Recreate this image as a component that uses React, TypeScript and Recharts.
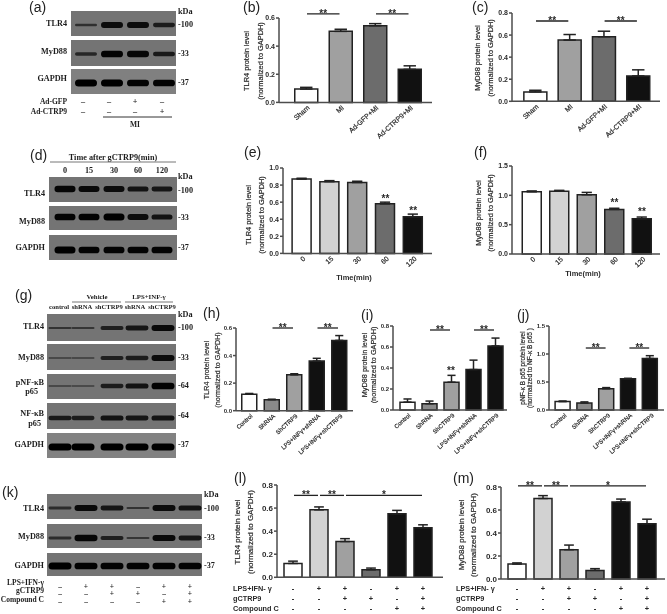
import { BarChart, Bar, XAxis, YAxis, ErrorBar, ReferenceLine, Cell } from "recharts";

const SANS = "'Liberation Sans', Arial, sans-serif";
const SERIF = "'Liberation Serif', 'Times New Roman', serif";
const INK = "#2a2a2a";
const AXIS = "#4d4d4d";

const WHITE = "#ffffff";
const PALE = "#d2d2d2";
const LIGHT = "#a0a0a0";
const STEEL = "#8a8a8a";
const MID = "#6c6c6c";
const BLACK = "#111111";

// bar panels
const miCategories = ["Sham", "MI", "Ad-GFP+MI", "Ad-CTRP9+MI"];
const miFills = [WHITE, LIGHT, MID, BLACK];
const bValues = [0.095, 0.505, 0.545, 0.235];
const bErrors = [0.012, 0.015, 0.015, 0.025];
const bTicks = [0, 0.2, 0.4, 0.6];
const cValues = [0.085, 0.555, 0.585, 0.23];
const cErrors = [0.015, 0.05, 0.05, 0.055];
const cTicks = [0, 0.2, 0.4, 0.6, 0.8];

const timeCategories = ["0", "15", "30", "60", "120"];
const timeFills = [WHITE, PALE, LIGHT, MID, BLACK];
const eValues = [0.87, 0.84, 0.83, 0.58, 0.43];
const eErrors = [0.01, 0.012, 0.015, 0.02, 0.03];
const eTicks = [0, 0.2, 0.4, 0.6, 0.8, 1.0];
const fValues = [1.06, 1.07, 1.01, 0.76, 0.6];
const fErrors = [0.015, 0.015, 0.04, 0.02, 0.03];
const fTicks = [0, 0.5, 1.0, 1.5];

const shCategories = ["Control", "ShRNA", "ShCTRP9", "LPS+INFγ+shRNA", "LPS+INFγ+shCTRP9"];
const shFills = [WHITE, STEEL, LIGHT, BLACK, BLACK];
const hValues = [0.12, 0.08, 0.26, 0.36, 0.51];
const hErrors = [0.005, 0.003, 0.008, 0.02, 0.035];
const hTicks = [0, 0.2, 0.4, 0.6];
const iValues = [0.075, 0.06, 0.265, 0.385, 0.61];
const iErrors = [0.03, 0.025, 0.065, 0.09, 0.075];
const iTicks = [0, 0.2, 0.4, 0.6, 0.8];
const jValues = [0.15, 0.125, 0.38, 0.56, 0.92];
const jErrors = [0.01, 0.02, 0.02, 0.005, 0.05];
const jTicks = [0, 0.5, 1.0, 1.5];

const compCategories = ["Vehicle", "LPS", "LPS+g", "g", "LPS+C", "LPS+g+C"];
const compFills = [WHITE, PALE, LIGHT, MID, BLACK, BLACK];
const lValues = [0.12, 0.585, 0.31, 0.065, 0.55, 0.43];
const lErrors = [0.02, 0.025, 0.025, 0.015, 0.03, 0.025];
const mValues = [0.13, 0.7, 0.255, 0.075, 0.67, 0.48];
const mErrors = [0.01, 0.025, 0.04, 0.015, 0.025, 0.04];
const compTicks = [0, 0.2, 0.4, 0.6, 0.8];

const lpsSigns = ["-", "+", "+", "-", "+", "+"];
const gctrpSigns = ["-", "-", "+", "+", "-", "+"];
const compoundSigns = ["-", "-", "-", "-", "+", "+"];
const signRows = [lpsSigns, gctrpSigns, compoundSigns];

// significance marks: from, to, height in data units, text
type Mark = { from: string; to: string; y: number; text: string };
const bMarks: Mark[] = [
  { from: "Sham", to: "MI", y: 0.63, text: "**" },
  { from: "Ad-GFP+MI", to: "Ad-CTRP9+MI", y: 0.63, text: "**" },
];
const cMarks: Mark[] = [
  { from: "Sham", to: "MI", y: 0.7275, text: "**" },
  { from: "Ad-GFP+MI", to: "Ad-CTRP9+MI", y: 0.7275, text: "**" },
];
const eMarks: Mark[] = [
  { from: "60", to: "60", y: 0.64, text: "**" },
  { from: "120", to: "120", y: 0.5, text: "**" },
];
const fMarks: Mark[] = [
  { from: "60", to: "60", y: 0.87, text: "**" },
  { from: "120", to: "120", y: 0.71, text: "**" },
];
const hMarks: Mark[] = [
  { from: "ShRNA", to: "ShCTRP9", y: 0.6, text: "**" },
  { from: "LPS+INFγ+shRNA", to: "LPS+INFγ+shCTRP9", y: 0.6, text: "**" },
];
const iMarks: Mark[] = [
  { from: "ShRNA", to: "ShCTRP9", y: 0.762, text: "**" },
  { from: "LPS+INFγ+shRNA", to: "LPS+INFγ+shCTRP9", y: 0.762, text: "**" },
  { from: "ShCTRP9", to: "ShCTRP9", y: 0.37, text: "**" },
];
const jMarks: Mark[] = [
  { from: "ShRNA", to: "ShCTRP9", y: 1.107, text: "**" },
  { from: "LPS+INFγ+shRNA", to: "LPS+INFγ+shCTRP9", y: 1.107, text: "**" },
];
const lMarks: Mark[] = [
  { from: "Vehicle", to: "LPS", y: 0.71, text: "**" },
  { from: "LPS", to: "LPS+g", y: 0.71, text: "**" },
  { from: "LPS+g", to: "LPS+g+C", y: 0.71, text: "*" },
];
const mMarks: Mark[] = [
  { from: "Vehicle", to: "LPS", y: 0.81, text: "**" },
  { from: "LPS", to: "LPS+g", y: 0.81, text: "**" },
  { from: "LPS+g", to: "LPS+g+C", y: 0.81, text: "*" },
];

// blot band strength per lane, 0 to 1
const aTlr4 = [0.25, 0.8, 0.8, 0.55];
const aMyd88 = [0.4, 0.95, 0.9, 0.6];
const aGapdh = [1, 1, 0.95, 0.95];
const dTlr4 = [0.9, 0.85, 0.8, 0.7, 0.65];
const dMyd88 = [0.95, 0.95, 1, 0.8, 0.7];
const dGapdh = [1, 0.95, 0.95, 0.95, 0.95];
const gTlr4 = [0.2, 0.15, 0.5, 0.65, 0.85];
const gMyd88 = [0.1, 0.08, 0.5, 0.55, 0.8];
const gPnf = [0.08, 0.05, 0.55, 0.7, 0.95];
const gNf = [0.6, 0.55, 0.7, 0.65, 0.7];
const gGapdh = [1, 1, 1, 1, 1];
const kTlr4 = [0.3, 0.85, 0.65, 0.2, 0.8, 0.7];
const kMyd88 = [0.3, 0.9, 0.5, 0.15, 0.85, 0.65];
const kGapdh = [1, 0.95, 0.95, 0.95, 0.95, 0.95];

const aLanes = [86, 112, 138, 164];
const dLanes = [65, 89, 114, 138, 162];
const gLanes = [60, 83, 112, 137, 163];
const kLanes = [60, 86, 112, 138, 164, 190];

function MarkShape(props: any) {
  const { x1, x2, y1, text, fontSize } = props;
  const mid = (x1 + x2) / 2;
  return (
    <g>
      {x2 > x1 ? <line x1={x1 + 1} x2={x2 - 1} y1={y1} y2={y1} stroke="#222" strokeWidth={1.3} /> : null}
      <text x={mid} y={y1 + 3} textAnchor="middle" fontFamily={SANS} fontWeight={700} fontSize={fontSize} fill={INK}>
        {text}
      </text>
    </g>
  );
}

function Panel(props: {
  categories: string[];
  fills: string[];
  values: number[];
  errors: number[];
  ticks: number[];
  marks: Mark[];
  axisX: number;
  topY: number;
  zeroY: number;
  rightX: number;
  firstX: number;
  step: number;
  barW: number;
  font: number;
  signY?: number;
}) {
  const { categories, fills, values, errors, ticks, marks, axisX, topY, zeroY, rightX, firstX, step, barW, font, signY } = props;
  const data = categories.map((name, i) => ({ name, value: values[i], err: [0, errors[i]] }));
  const yW = 26;
  const topPad = 16;
  const xH = 72;
  const padL = firstX - step / 2 - axisX;
  const padR = rightX - (firstX + step * (categories.length - 0.5));
  const renderTick = (p: any) => {
    if (signY !== undefined) {
      return (
        <g>
          {signRows.map((row, r) => (
            <text key={r} x={p.x} y={p.y + signY + r * 10} textAnchor="middle" fontFamily={SANS} fontWeight={700} fontSize={7.5} fill={INK}>
              {row[p.index]}
            </text>
          ))}
        </g>
      );
    }
    const tx = p.x + 4;
    const ty = p.y + 6;
    return (
      <text x={tx} y={ty} transform={`rotate(-42 ${tx} ${ty})`} textAnchor="end" fontFamily={SANS} fontSize={font} fill={INK} stroke={INK} strokeWidth={0.2}>
        {p.payload.value}
      </text>
    );
  };
  return (
    <div style={{ position: "absolute", left: axisX - yW, top: topY - topPad }}>
      <BarChart
        width={rightX - axisX + yW + 3}
        height={zeroY - topY + topPad + xH}
        data={data}
        margin={{ top: topPad, right: 3, bottom: 0, left: 0 }}
      >
        <XAxis
          dataKey="name"
          interval={0}
          height={xH}
          tickLine={false}
          tickSize={0}
          tickMargin={0}
          padding={{ left: padL, right: padR }}
          stroke={AXIS}
          strokeWidth={1.5}
          tick={renderTick}
        />
        <YAxis
          type="number"
          width={yW}
          domain={[0, ticks[ticks.length - 1]]}
          ticks={ticks}
          interval={0}
          tickSize={3}
          tickMargin={1}
          stroke={AXIS}
          strokeWidth={1.5}
          tickFormatter={(v: number) => v.toFixed(1)}
          tick={{ fill: INK, fontSize: font, fontWeight: 700, fontFamily: SANS, stroke: "none" }}
        />
        <Bar dataKey="value" barSize={barW} stroke="#222" strokeWidth={1.5} isAnimationActive={false}>
          {data.map((d, i) => (
            <Cell key={d.name} fill={fills[i]} />
          ))}
          <ErrorBar dataKey="err" direction="y" width={barW * 0.27} stroke="#222" strokeWidth={1.5} isAnimationActive={false} />
        </Bar>
        {marks.map((m) => (
          <ReferenceLine
            key={m.from + m.to}
            segment={[{ x: m.from, y: m.y }, { x: m.to, y: m.y }]}
            ifOverflow="visible"
            shape={(s: any) => <MarkShape {...s} text={m.text} fontSize={10} />}
          />
        ))}
      </BarChart>
    </div>
  );
}

function Blot(props: { x: number; w: number; top: number; bottom: number; bandY: number; bandW: number; lanes: number[]; levels: number[]; bg?: string }) {
  const { x, w, top, bottom, bandY, bandW, lanes, levels, bg } = props;
  return (
    <g>
      <rect x={x} y={top} width={w} height={bottom - top} fill={bg ?? "#747474"} />
      {levels.map((v, i) => {
        const h = 1 + v * 6;
        return (
          <rect
            key={i}
            x={lanes[i] - bandW / 2}
            y={bandY - h / 2}
            width={bandW}
            height={h}
            rx={h / 2}
            fill="#060606"
            opacity={0.45 + v * 0.55}
            filter="url(#soft)"
          />
        );
      })}
    </g>
  );
}

function Serif(props: { x: number; y: number; anchor?: "start" | "middle" | "end"; size?: number; children: any }) {
  return (
    <text x={props.x} y={props.y} textAnchor={props.anchor ?? "end"} dominantBaseline="middle" fontFamily={SERIF} fontWeight={700} fontSize={props.size ?? 8.2} fill="#1c1c1c">
      {props.children}
    </text>
  );
}

function Letter(props: { x: number; y: number; children: string }) {
  return (
    <text x={props.x} y={props.y} fontFamily={SANS} fontSize={14} fill="#222">
      {props.children}
    </text>
  );
}

function YTitle(props: { x1: number; x2: number; cy: number; size: number; lines: string[] }) {
  return (
    <g fontFamily={SANS} fontSize={props.size} fill={INK} stroke={INK} strokeWidth={0.2} textAnchor="middle">
      <text transform={`translate(${props.x1} ${props.cy}) rotate(-90)`} dominantBaseline="middle">{props.lines[0]}</text>
      <text transform={`translate(${props.x2} ${props.cy}) rotate(-90)`} dominantBaseline="middle">{props.lines[1]}</text>
    </g>
  );
}

function Markers(props: { x: number; items: [string, number][] }) {
  return (
    <>
      {props.items.map(([t, y]) => (
        <Serif key={t + y} x={props.x} y={y} anchor="start">{t}</Serif>
      ))}
    </>
  );
}

function Labels() {
  const tlr = ["TLR4 protein level", "(normalized to GAPDH)"];
  const myd = ["MyD88 protein level", "(normalized to GAPDH)"];
  return (
    <svg width={667} height={614} style={{ position: "absolute", left: 0, top: 0 }}>
      <defs>
        <filter id="soft" x="-20%" y="-100%" width="140%" height="300%">
          <feGaussianBlur stdDeviation="0.7" />
        </filter>
      </defs>

      <Letter x={29} y={12}>(a)</Letter>
      <Blot x={71} w={105} top={11} bottom={36} bandY={25} bandW={22} lanes={aLanes} levels={aTlr4} />
      <Blot x={71} w={105} top={40} bottom={66} bandY={54} bandW={22} lanes={aLanes} levels={aMyd88} />
      <Blot x={71} w={105} top={69} bottom={94} bandY={83} bandW={22} lanes={aLanes} levels={aGapdh} bg="#808080" />
      <Serif x={67} y={24}>TLR4</Serif>
      <Serif x={67} y={52}>MyD88</Serif>
      <Serif x={67} y={79}>GAPDH</Serif>
      <Markers x={178} items={[["kDa", 12], ["-100", 25], ["-33", 54], ["-37", 83]]} />
      <Serif x={67} y={102} size={7.5}>Ad-GFP</Serif>
      <Serif x={67} y={112} size={7.5}>Ad-CTRP9</Serif>
      {["–", "–", "+", "–"].map((s, i) => <Serif key={i} x={[83, 109, 135, 162][i]} y={102} anchor="middle">{s}</Serif>)}
      {["–", "–", "–", "+"].map((s, i) => <Serif key={i} x={[83, 109, 135, 162][i]} y={112} anchor="middle">{s}</Serif>)}
      <line x1={103} x2={172} y1={117} y2={117} stroke="#333" strokeWidth={1} />
      <Serif x={135} y={125} anchor="middle" size={7.5}>MI</Serif>

      <Letter x={243} y={12}>(b)</Letter>
      <YTitle x1={247} x2={261} cy={61} size={7.4} lines={tlr} />
      <Letter x={472} y={12}>(c)</Letter>
      <YTitle x1={478} x2={491} cy={58} size={7.4} lines={myd} />

      <Letter x={30} y={160}>(d)</Letter>
      <Serif x={113} y={158} anchor="middle">Time after gCTRP9(min)</Serif>
      <line x1={50} x2={176} y1={162} y2={162} stroke="#777" strokeWidth={1} />
      {timeCategories.map((t, i) => <Serif key={t} x={dLanes[i]} y={171} anchor="middle">{t}</Serif>)}
      <Blot x={49} w={128} top={177} bottom={202} bandY={189} bandW={21} lanes={dLanes} levels={dTlr4} />
      <Blot x={49} w={128} top={206} bottom={230} bandY={217} bandW={21} lanes={dLanes} levels={dMyd88} />
      <Blot x={49} w={128} top={235} bottom={260} bandY={250} bandW={21} lanes={dLanes} levels={dGapdh} />
      <Serif x={45} y={194}>TLR4</Serif>
      <Serif x={45} y={222}>MyD88</Serif>
      <Serif x={45} y={248}>GAPDH</Serif>
      <Markers x={178} items={[["kDa", 177], ["-100", 191], ["-33", 218], ["-37", 248]]} />

      <Letter x={244} y={157}>(e)</Letter>
      <YTitle x1={249} x2={262} cy={215} size={7.4} lines={tlr} />
      <text x={354} y={278} textAnchor="middle" dominantBaseline="middle" fontFamily={SANS} fontWeight={700} fontSize={7.5} fill={INK}>Time(min)</text>
      <Letter x={474} y={157}>(f)</Letter>
      <YTitle x1={479} x2={491} cy={213} size={7.4} lines={myd} />
      <text x={583} y={274} textAnchor="middle" dominantBaseline="middle" fontFamily={SANS} fontWeight={700} fontSize={7.5} fill={INK}>Time(min)</text>

      <Letter x={15} y={300}>(g)</Letter>
      <Serif x={97} y={297} anchor="middle" size={6.8}>Vehicle</Serif>
      <Serif x={149} y={297} anchor="middle" size={6.8}>LPS+INF-γ</Serif>
      <line x1={72} x2={121} y1={302} y2={302} stroke="#777" strokeWidth={1} />
      <line x1={125} x2={173} y1={302} y2={302} stroke="#777" strokeWidth={1} />
      {["control", "shRNA", "shCTRP9", "shRNA", "shCTRP9"].map((t, i) => (
        <Serif key={i} x={[59, 82, 109, 135, 162][i]} y={307} anchor="middle" size={6.6}>{t}</Serif>
      ))}
      <Blot x={47} w={129} top={314} bottom={341} bandY={328} bandW={23} lanes={gLanes} levels={gTlr4} />
      <Blot x={47} w={129} top={344} bottom={370} bandY={358} bandW={23} lanes={gLanes} levels={gMyd88} />
      <Blot x={47} w={129} top={374} bottom={399} bandY={386} bandW={23} lanes={gLanes} levels={gPnf} />
      <Blot x={47} w={129} top={403} bottom={429} bandY={418} bandW={23} lanes={gLanes} levels={gNf} />
      <Blot x={47} w={129} top={433} bottom={458} bandY={447} bandW={23} lanes={gLanes} levels={gGapdh} bg="#828282" />
      <Serif x={44} y={327}>TLR4</Serif>
      <Serif x={44} y={358}>MyD88</Serif>
      <Serif x={44} y={383}>pNF-κB</Serif>
      <Serif x={38} y={392}>p65</Serif>
      <Serif x={44} y={414}>NF-κB</Serif>
      <Serif x={41} y={424}>p65</Serif>
      <Serif x={44} y={445}>GAPDH</Serif>
      <Markers x={178} items={[["kDa", 315], ["-100", 328], ["-33", 358], ["-64", 386], ["-64 ", 416], ["-37", 445]]} />

      <Letter x={203} y={318}>(h)</Letter>
      <YTitle x1={207} x2={218} cy={370} size={7.2} lines={tlr} />
      <Letter x={361} y={320}>(i)</Letter>
      <YTitle x1={365} x2={374} cy={365} size={7.3} lines={myd} />
      <Letter x={517} y={320}>(j)</Letter>
      <YTitle x1={523} x2={530} cy={368} size={6.5} lines={["pNF-κ B p65 protein level", "(normalized to NF-κ B p65 )"]} />

      <Letter x={2} y={497}>(k)</Letter>
      <Blot x={47} w={155} top={494} bottom={519} bandY={508} bandW={23} lanes={kLanes} levels={kTlr4} />
      <Blot x={47} w={155} top={524} bottom={548} bandY={538} bandW={23} lanes={kLanes} levels={kMyd88} />
      <Blot x={47} w={155} top={553} bottom={576} bandY={566} bandW={23} lanes={kLanes} levels={kGapdh} />
      <Serif x={44} y={509}>TLR4</Serif>
      <Serif x={44} y={537}>MyD88</Serif>
      <Serif x={44} y={566}>GAPDH</Serif>
      <Markers x={204} items={[["kDa", 495], ["-100", 509], ["-33", 538], ["-37", 566]]} />
      {["LPS+IFN-γ", "gCTRP9", "Compound C"].map((t, r) => (
        <g key={t}>
          <Serif x={44} y={583 + r * 8.5} size={7.5}>{t}</Serif>
          {signRows[r].map((s, i) => (
            <Serif key={i} x={kLanes[i]} y={587 + r * 7.5} anchor="middle" size={7.5}>{s === "-" ? "–" : s}</Serif>
          ))}
        </g>
      ))}

      <Letter x={234} y={483}>(l)</Letter>
      <YTitle x1={238} x2={251} cy={532} size={8} lines={tlr} />
      <Letter x={453} y={483}>(m)</Letter>
      <YTitle x1={462} x2={474} cy={535} size={8} lines={myd} />
      {["LPS+IFN- γ", "gCTRP9", "Compound C"].map((t, r) => (
        <g key={t} fontFamily={SANS} fontWeight={700} fontSize={7.3} fill={INK}>
          <text x={233} y={591 + r * 10}>{t}</text>
          <text x={456} y={591 + r * 10}>{t}</text>
        </g>
      ))}
    </svg>
  );
}

export default function App() {
  return (
    <div style={{ position: "absolute", left: 0, top: 0, width: 667, height: 614, background: "#fff", overflow: "hidden", filter: "blur(0.35px)" }}>
      <Labels />
      <Panel categories={miCategories} fills={miFills} values={bValues} errors={bErrors} ticks={bTicks} marks={bMarks}
        axisX={279} topY={18.3} zeroY={102.7} rightX={432} firstX={306} step={34.5} barW={23} font={7} />
      <Panel categories={miCategories} fills={miFills} values={cValues} errors={cErrors} ticks={cTicks} marks={cMarks}
        axisX={512} topY={12.7} zeroY={101} rightX={660} firstX={535} step={34.3} barW={23} font={7} />
      <Panel categories={timeCategories} fills={timeFills} values={eValues} errors={eErrors} ticks={eTicks} marks={eMarks}
        axisX={283} topY={168.3} zeroY={253.7} rightX={432} firstX={302} step={27.8} barW={19} font={7} />
      <Panel categories={timeCategories} fills={timeFills} values={fValues} errors={fErrors} ticks={fTicks} marks={fMarks}
        axisX={512} topY={166} zeroY={254} rightX={660} firstX={532} step={27.5} barW={19} font={7} />
      <Panel categories={shCategories} fills={shFills} values={hValues} errors={hErrors} ticks={hTicks} marks={hMarks}
        axisX={236} topY={328} zeroY={410.7} rightX={353} firstX={249} step={22.5} barW={15} font={6} />
      <Panel categories={shCategories} fills={shFills} values={iValues} errors={iErrors} ticks={iTicks} marks={iMarks}
        axisX={393} topY={326} zeroY={410} rightX={507} firstX={407} step={22} barW={15} font={6} />
      <Panel categories={shCategories} fills={shFills} values={jValues} errors={jErrors} ticks={jTicks} marks={jMarks}
        axisX={549} topY={326} zeroY={410} rightX={664} firstX={563} step={21.8} barW={15} font={6} />
      <Panel categories={compCategories} fills={compFills} values={lValues} errors={lErrors} ticks={compTicks} marks={lMarks}
        axisX={277} topY={484.7} zeroY={577} rightX={443} firstX={293} step={26} barW={18} font={8} signY={14} />
      <Panel categories={compCategories} fills={compFills} values={mValues} errors={mErrors} ticks={compTicks} marks={mMarks}
        axisX={501} topY={487} zeroY={579} rightX={665} firstX={517} step={26} barW={18} font={8} signY={12} />
    </div>
  );
}
